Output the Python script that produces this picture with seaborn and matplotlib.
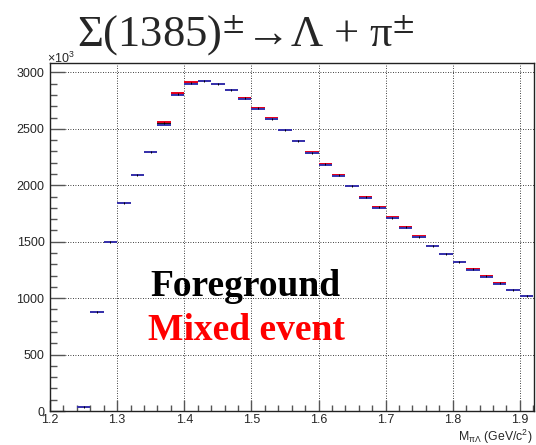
import numpy as np
import pandas as pd
import matplotlib
matplotlib.use("Agg")
import matplotlib.pyplot as plt
import matplotlib.transforms as mtransforms
import seaborn as sns
from matplotlib.ticker import MultipleLocator

# bin centres (GeV/c^2), bin width 0.02
bin_centers = [1.25, 1.27, 1.29, 1.31, 1.33, 1.35, 1.37, 1.39, 1.41, 1.43,
               1.45, 1.47, 1.49, 1.51, 1.53, 1.55, 1.57, 1.59, 1.61, 1.63,
               1.65, 1.67, 1.69, 1.71, 1.73, 1.75, 1.77, 1.79, 1.81, 1.83,
               1.85, 1.87, 1.89, 1.91]
# counts in units of 10^3
foreground = [35, 876, 1498, 1847, 2088, 2298, 2548, 2805, 2910, 2923,
              2896, 2843, 2770, 2681, 2590, 2490, 2392, 2286, 2186, 2088,
              1991, 1894, 1803, 1711, 1626, 1543, 1466, 1395, 1319, 1254,
              1192, 1130, 1071, 1018]
mixed_event = [35, 876, 1498, 1847, 2088, 2298, 2560, 2815, 2918, 2926,
               2900, 2846, 2772, 2684, 2596, 2493, 2392, 2292, 2190, 2093,
               1991, 1898, 1803, 1715, 1626, 1548, 1466, 1395, 1324, 1259,
               1192, 1130, 1074, 1020]
mixed_scaled = [35, 876, 1498, 1847, 2088, 2298, 2535, 2800, 2900, 2920,
                2893, 2840, 2766, 2678, 2586, 2487, 2390, 2282, 2183, 2085,
                1990, 1891, 1802, 1708, 1625, 1540, 1465, 1394, 1316, 1251,
                1191, 1129, 1068, 1016]
bin_width = 0.02

df = pd.DataFrame({"x": bin_centers, "fg": foreground,
                   "mix": mixed_event, "scaled": mixed_scaled})

sns.set_style("ticks")
plt.rcParams["font.family"] = ["Liberation Sans", "DejaVu Sans"]
plt.rcParams["mathtext.fontset"] = "custom"
plt.rcParams["mathtext.rm"] = "Liberation Sans"
plt.rcParams["mathtext.it"] = "Liberation Sans"

fig = plt.figure(figsize=(5.36, 4.45), dpi=100)
ax = fig.add_axes([50 / 536, 1 - 411 / 445, 484 / 536, 348 / 445])

lo = df["x"] - bin_width / 2
hi = df["x"] + bin_width / 2
ax.hlines(df["fg"], lo, hi, color="black", lw=1.3, zorder=3)
ax.hlines(df["mix"], lo, hi, color="#e8001c", lw=1.4, zorder=4)
ax.hlines(df["scaled"], lo, hi, color="#3434b0", lw=1.4, zorder=5)
sns.scatterplot(data=df, x="x", y="fg", marker="|", s=4, color="black",
                linewidth=0.7, zorder=6, ax=ax, legend=False)

ax.set_xlim(1.2, 1.921)
ax.set_ylim(0, 3083)
ax.xaxis.set_major_locator(MultipleLocator(0.1))
ax.xaxis.set_minor_locator(MultipleLocator(0.02))
ax.yaxis.set_major_locator(MultipleLocator(500))
ax.yaxis.set_minor_locator(MultipleLocator(100))
ax.xaxis.set_major_formatter(matplotlib.ticker.FormatStrFormatter("%.1f"))
ax.grid(True, which="major", ls=(0, (1, 2)), color="black", lw=0.6)
ax.set_axisbelow(True)

ax.tick_params(axis="x", which="major", direction="in", length=8, width=1,
               labelsize=9, pad=2.5, color="#555555")
ax.tick_params(axis="x", which="minor", direction="in", length=4.3, width=1,
               color="#555555")
ax.tick_params(axis="y", which="major", direction="in", length=10.8, width=1,
               labelsize=9, pad=4, color="#555555")
ax.tick_params(axis="y", which="minor", direction="in", length=5, width=1,
               color="#555555")
for s in ax.spines.values():
    s.set_color("#222222")
    s.set_linewidth(1)

# nudge the "0" label up so it clears the "1.2" label
zero_lab = ax.yaxis.get_major_ticks()[0].label1
zero_lab.set_transform(zero_lab.get_transform() +
                       mtransforms.ScaledTranslation(0, 6 / 100,
                                                     fig.dpi_scale_trans))

ax.set_xlabel(r"M$_{\pi\Lambda}$ (GeV/c$^{2}$)", loc="right", fontsize=8.8)
ax.xaxis.set_label_coords(0.997, -0.047)
ax.set_ylabel("")

fig.text(47 / 536, 1 - 63 / 445, r"$\times$10$^{3}$", fontsize=9,
         ha="left", va="baseline")

serif = ["Liberation Serif", "DejaVu Serif"]
fig.text(77 / 536, 1 - 47 / 445,
         "\u03a3(1385)$^{\\pm}$\u2192\u039b + \u03c0$^{\\pm}$",
         fontsize=32, ha="left", va="baseline", family=serif,
         math_fontfamily="stix")

ax.text(150 / 536, 1 - 296 / 445, "Foreground", transform=fig.transFigure,
        fontsize=27, fontweight="bold", color="black", family=serif,
        va="baseline")
ax.text(148 / 536, 1 - 340 / 445, "Mixed event", transform=fig.transFigure,
        fontsize=27, fontweight="bold", color="red", family=serif,
        va="baseline")

fig.savefig("out.png", dpi=100)
